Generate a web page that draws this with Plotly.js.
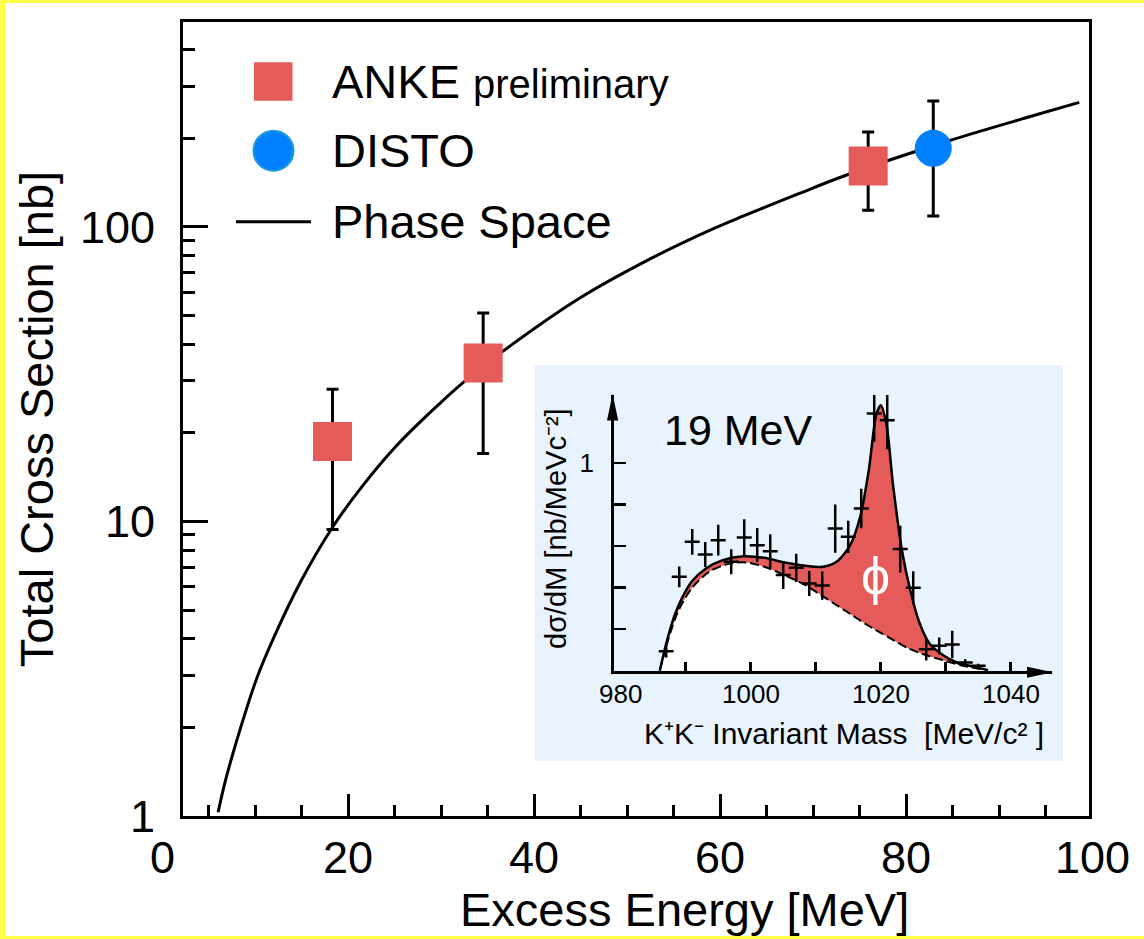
<!DOCTYPE html>
<html><head><meta charset="utf-8">
<script src="https://cdn.plot.ly/plotly-3.0.1.min.js"></script>
<style>
html,body{margin:0;padding:0;background:#FFFF44;width:1144px;height:939px;overflow:hidden;}
#chart{position:absolute;left:5px;top:3px;width:1139px;height:933px;background:#fff;}
</style></head><body><div id="chart"></div>
<script>
// ---------- main panel data ----------
const ankeEnergy = [18.3, 34.5, 75.9];
const ankeSigma = [18.7, 34.5, 161];
const ankeErrPlus = [9.4, 16.5, 49];
const ankeErrMinus = [9.3, 17.5, 47];
const distoEnergy = [82.9];
const distoSigma = [185];
const distoErrPlus = [83];
const distoErrMinus = [76];
const psEnergy = [6.0, 6.9, 8.9, 10.2, 11.9, 15.0, 18.2, 21.2, 25.2, 29.8, 32.5, 36.6, 44.9, 52.1, 59.2, 62.5, 68.5, 73.3, 84.75, 93.7, 98.6];
const psSigma = [1.03, 1.36, 2.23, 2.96, 3.98, 6.35, 9.45, 12.8, 18.1, 25.1, 29.9, 37.8, 57.4, 76.9, 98.5, 109, 130, 149, 197, 239, 265];
const xTickVals = [0, 20, 40, 60, 80, 100];
const xTickLabels = ['0', '20', '40', '60', '80', '100'];
const xMinorVals = [5, 10, 15, 25, 30, 35, 45, 50, 55, 65, 70, 75, 85, 90, 95];
const yTickVals = [1, 10, 100];
const yTickLabels = ['1', '10', '100'];
const yMinorVals = [2, 3, 4, 5, 6, 7, 8, 9, 20, 30, 40, 50, 60, 70, 80, 90, 200, 300, 400];
const legendLabels = ['ANKE <span style="font-size:40px">preliminary</span>', 'DISTO', 'Phase Space'];

// ---------- inset data ----------
const massBins = [987, 989, 991, 993, 995, 997, 999, 1001, 1003, 1005, 1007, 1009, 1011, 1013, 1015, 1017, 1019, 1021, 1023, 1025, 1027, 1029, 1031, 1033, 1035];
const dsdm = [0.094, 0.452, 0.62, 0.559, 0.628, 0.524, 0.641, 0.604, 0.575, 0.46, 0.495, 0.42, 0.41, 0.684, 0.644, 0.78, 1.237, 1.205, 0.585, 0.399, 0.104, 0.12, 0.126, 0.04, 0.024];
const dsdmErr = [0.03, 0.05, 0.062, 0.06, 0.074, 0.06, 0.088, 0.082, 0.082, 0.067, 0.068, 0.06, 0.068, 0.116, 0.078, 0.095, 0.136, 0.14, 0.112, 0.08, 0.054, 0.04, 0.066, 0.015, 0.01];
const massHalfBin = 1.15;
const fitMass = [986.0, 987.2, 988.3, 989.4, 990.9, 993.1, 995.7, 998.9, 1002.1, 1005.2, 1008.4, 1011.1, 1013.2, 1015.3, 1016.9, 1018.2, 1019.3, 1020.0, 1020.9, 1021.9, 1023.3, 1024.6, 1025.9, 1027.5, 1029.6, 1031.7, 1034.4, 1036.5];
const fitTotal = [0.0, 0.155, 0.267, 0.348, 0.428, 0.492, 0.532, 0.551, 0.543, 0.521, 0.505, 0.5, 0.524, 0.604, 0.748, 0.973, 1.229, 1.277, 1.181, 0.892, 0.572, 0.38, 0.236, 0.131, 0.075, 0.04, 0.019, 0.003];
const bgMass = [986.0, 987.2, 988.8, 990.9, 993.6, 996.8, 999.4, 1002.1, 1005.2, 1008.4, 1011.6, 1014.8, 1018.0, 1021.1, 1024.3, 1027.0, 1029.6, 1032.3, 1034.9, 1036.5];
const bgValue = [0.0, 0.139, 0.284, 0.396, 0.476, 0.516, 0.521, 0.5, 0.46, 0.412, 0.348, 0.284, 0.219, 0.163, 0.107, 0.075, 0.051, 0.027, 0.011, 0.003];
const insetXTickVals = [990, 1000, 1010, 1020, 1030, 1040];
const insetXLabelVals = [980, 1000, 1020, 1040];
const insetXLabels = ['980', '1000', '1020', '1040'];
const insetYTickVals = [1.0];
const insetYTickLabels = ['1'];
const insetYMinorVals = [0.2, 0.4, 0.6, 0.8];

// ---------- styling / geometry ----------
const RED = '#E55B5A', BLUE = '#0080FF', INSET_BG = '#E8F3FE';
const FONT = 'Liberation Sans, Arial, sans-serif';
// page-pixel -> paper helpers (plot area on page: x 183..1089, y 22..816)
const PL = 183, PW = 906, PB = 816, PH = 794;
const fx = px => (px - PL) / PW;
const fy = py => (PB - py) / PH;
const xRange = [2.226, 99.645];
const yRange = [0, 2.696];
const insetXRange = [978.98, 1046.35];
const insetYRange = [0, 1.326];
const xToPaper = v => (v - xRange[0]) / (xRange[1] - xRange[0]);

const traces = [
  {x: psEnergy, y: psSigma, mode: 'lines', line: {color: 'black', width: 3, shape: 'spline', smoothing: 1},
   xaxis: 'x', yaxis: 'y', hoverinfo: 'skip'},
  {x: ankeEnergy, y: ankeSigma, mode: 'markers', xaxis: 'x', yaxis: 'y',
   marker: {symbol: 'square', size: 39, color: RED, line: {width: 0}},
   error_y: {type: 'data', symmetric: false, array: ankeErrPlus, arrayminus: ankeErrMinus, color: 'black', thickness: 3, width: 6}},
  {x: distoEnergy, y: distoSigma, mode: 'markers', xaxis: 'x', yaxis: 'y',
   marker: {symbol: 'circle', size: 37, color: BLUE, line: {width: 0}},
   error_y: {type: 'data', symmetric: false, array: distoErrPlus, arrayminus: distoErrMinus, color: 'black', thickness: 3, width: 6}},
  // inset
  {x: bgMass, y: bgValue, mode: 'lines', xaxis: 'x2', yaxis: 'y2', fill: 'tozeroy', fillcolor: '#FFFFFF',
   line: {color: 'black', width: 2, dash: '9px,4px', shape: 'spline', smoothing: 0.8}},
  {x: fitMass, y: fitTotal, mode: 'lines', xaxis: 'x2', yaxis: 'y2', fill: 'tonexty', fillcolor: RED,
   line: {color: 'black', width: 2.5, shape: 'spline', smoothing: 0.8}},
  {x: massBins, y: dsdm, mode: 'markers', xaxis: 'x2', yaxis: 'y2',
   marker: {size: 2, color: 'black'},
   error_y: {type: 'data', array: dsdmErr, color: 'black', thickness: 2.5, width: 0},
   error_x: {type: 'constant', value: massHalfBin, color: 'black', thickness: 2.5, width: 0}}
];

const annotations = [];
// main x tick labels (0 and 100 lie just outside the frame)
xTickVals.forEach((v, i) => annotations.push({xref: 'paper', x: xToPaper(v), yref: 'paper', y: fy(857), text: xTickLabels[i],
  showarrow: false, xanchor: 'center', yanchor: 'middle', font: {size: 45, color: 'black', family: FONT}}));
// x axis title
annotations.push({xref: 'paper', x: fx(684), yref: 'paper', y: fy(909), text: 'Excess Energy [MeV]', showarrow: false,
  xanchor: 'center', yanchor: 'middle', font: {size: 47, color: 'black', family: FONT}});
// legend texts
[81.5, 150.7, 221.5].forEach((py, i) => annotations.push({xref: 'paper', x: fx(330), yref: 'paper', y: fy(py), text: legendLabels[i],
  showarrow: false, xanchor: 'left', yanchor: 'middle', font: {size: 47, color: 'black', family: FONT}}));
// inset texts
annotations.push({xref: 'paper', x: fx(662), yref: 'paper', y: fy(430), text: '19 MeV', showarrow: false,
  xanchor: 'left', yanchor: 'middle', font: {size: 43, color: 'black', family: FONT}});
annotations.push({xref: 'paper', x: fx(875), yref: 'paper', y: fy(576), text: 'ϕ', showarrow: false,
  xanchor: 'center', yanchor: 'middle', font: {size: 52, color: 'white', family: FONT}});
insetXLabelVals.forEach((v, i) => annotations.push({xref: 'x2', x: Math.max(v, insetXRange[0] + 0.01), yref: 'paper', y: fy(694),
  text: insetXLabels[i], showarrow: false, xanchor: 'center', yanchor: 'middle', font: {size: 26, color: 'black', family: FONT}}));
annotations.push({xref: 'paper', x: fx(844), yref: 'paper', y: fy(733),
  text: 'K\u207AK\u207B Invariant Mass\u00a0\u00a0[MeV/c\u00B2 ]', showarrow: false,
  xanchor: 'center', yanchor: 'middle', font: {size: 30, color: 'black', family: FONT}});
annotations.push({xref: 'paper', x: fx(556), yref: 'paper', y: fy(529), textangle: -90,
  text: 'dσ/dM [nb/MeVc\u207B\u00B2]', showarrow: false,
  xanchor: 'center', yanchor: 'middle', font: {size: 29, color: 'black', family: FONT}});

const tri = (pts) => 'M' + pts.map(p => fx(p[0]) + ',' + fy(p[1])).join(' L') + ' Z';

const shapes = [
  // inset background
  {type: 'rect', xref: 'paper', yref: 'paper', x0: fx(535), x1: fx(1063), y0: fy(761), y1: fy(365),
   fillcolor: INSET_BG, line: {width: 0}, layer: 'below'},
  // legend keys
  {type: 'rect', xref: 'paper', yref: 'paper', x0: fx(254), x1: fx(292.5), y0: fy(100.8), y1: fy(62.3),
   fillcolor: RED, line: {width: 0}},
  {type: 'circle', xref: 'paper', yref: 'paper', x0: fx(253.5), x1: fx(293.5), y0: fy(170.7), y1: fy(130.7),
   fillcolor: BLUE, line: {width: 2, color: '#1C9BE0'}},
  {type: 'line', xref: 'paper', yref: 'paper', x0: fx(236), x1: fx(311), y0: fy(221.7), y1: fy(221.7),
   line: {width: 3, color: 'black'}},
  // inset axis arrowheads
  {type: 'path', xref: 'paper', yref: 'paper', path: tri([[1053, 672.3], [1027, 666.8], [1027, 677.8]]),
   fillcolor: 'black', line: {width: 0}},
  {type: 'path', xref: 'paper', yref: 'paper', path: tri([[612.6, 394], [607, 420.5], [618.2, 420.5]]),
   fillcolor: 'black', line: {width: 0}}
];

const layout = {
  width: 1139, height: 933,
  margin: {l: 178, r: 55, t: 19, b: 120},
  paper_bgcolor: '#FFFFFF', plot_bgcolor: 'rgba(0,0,0,0)',
  showlegend: false,
  font: {family: FONT, color: 'black'},
  xaxis: {domain: [0, 1], anchor: 'y', range: xRange, showline: true, mirror: true, linecolor: 'black', linewidth: 3,
    showgrid: false, zeroline: false, ticks: 'inside', ticklen: 22, tickwidth: 3, tickcolor: 'black',
    tickmode: 'array', tickvals: xTickVals, showticklabels: false,
    minor: {tickmode: 'array', tickvals: xMinorVals, ticks: 'inside', ticklen: 11, tickwidth: 3, tickcolor: 'black', showgrid: false}},
  yaxis: {domain: [0, 1], anchor: 'x', type: 'log', range: yRange, showline: true, mirror: true, linecolor: 'black', linewidth: 3,
    showgrid: false, zeroline: false, ticks: 'inside', ticklen: 25, tickwidth: 3, tickcolor: 'black',
    tickmode: 'array', tickvals: yTickVals, ticktext: yTickLabels, tickfont: {size: 45, family: FONT, color: 'black'},
    ticklabelstandoff: 16,
    minor: {tickmode: 'array', tickvals: yMinorVals, ticks: 'inside', ticklen: 12, tickwidth: 3, tickcolor: 'black', showgrid: false},
    title: {text: 'Total Cross Section [nb]', font: {size: 47, family: FONT, color: 'black'}, standoff: 12}},
  xaxis2: {domain: [fx(614.1), fx(1052)], anchor: 'y2', range: insetXRange, showline: true, linecolor: 'black', linewidth: 3,
    showgrid: false, zeroline: false, ticks: 'inside', ticklen: 9, tickwidth: 2.5, tickcolor: 'black',
    tickmode: 'array', tickvals: insetXTickVals, showticklabels: false},
  yaxis2: {domain: [fy(670.8), fy(395)], anchor: 'x2', range: insetYRange, showline: true, linecolor: 'black', linewidth: 3,
    showgrid: false, zeroline: false, ticks: 'inside', ticklen: 12, tickwidth: 2.5, tickcolor: 'black',
    tickmode: 'array', tickvals: insetYTickVals, ticktext: insetYTickLabels, tickfont: {size: 26, family: FONT, color: 'black'},
    ticklabelstandoff: 12,
    minor: {tickmode: 'array', tickvals: insetYMinorVals, ticks: 'inside', ticklen: 12, tickwidth: 2.5, tickcolor: 'black', showgrid: false}},
  annotations: annotations,
  shapes: shapes
};

Plotly.newPlot('chart', traces, layout, {staticPlot: true, displayModeBar: false});
</script></body></html>
